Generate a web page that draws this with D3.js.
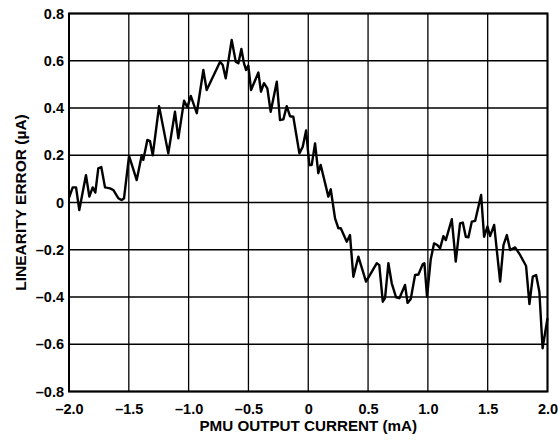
<!DOCTYPE html>
<html>
<head>
<meta charset="utf-8">
<script src="https://cdn.jsdelivr.net/npm/d3@7"></script>
<style>
  html, body { margin: 0; padding: 0; background: #fff; }
  svg { display: block; }
  text { font-family: "Liberation Sans", Arial, Helvetica, sans-serif; font-weight: bold; fill: #000; }
</style>
</head>
<body>
<svg id="chart" width="560" height="444"></svg>
<script>
// PMU output current (mA)
const currentMA = [
  -2.000, -1.969, -1.941, -1.914, -1.858, -1.830, -1.802, -1.780, -1.755, -1.730,
  -1.699, -1.657, -1.630, -1.588, -1.559, -1.540, -1.498, -1.434, -1.392, -1.379,
  -1.345, -1.323, -1.300, -1.247, -1.170, -1.114, -1.086, -1.038, -1.011, -0.982,
  -0.932, -0.877, -0.849, -0.737, -0.715, -0.690, -0.640, -0.606, -0.584, -0.559,
  -0.537, -0.520, -0.501, -0.478, -0.417, -0.395, -0.370, -0.342, -0.314, -0.263,
  -0.236, -0.208, -0.180, -0.152, -0.125, -0.074, -0.046, -0.018, 0.009, 0.029,
  0.057, 0.084, 0.104, 0.168, 0.188, 0.224, 0.252, 0.272, 0.322, 0.349,
  0.377, 0.419, 0.483, 0.573, 0.594, 0.623, 0.642, 0.670, 0.698, 0.734,
  0.762, 0.809, 0.830, 0.857, 0.893, 0.921, 0.957, 0.971, 0.993, 1.024,
  1.052, 1.079, 1.102, 1.130, 1.150, 1.200, 1.233, 1.269, 1.292, 1.317,
  1.339, 1.367, 1.395, 1.445, 1.470, 1.498, 1.520, 1.554, 1.604, 1.632,
  1.660, 1.688, 1.729, 1.771, 1.821, 1.849, 1.877, 1.905, 1.932, 1.959,
  2.000
];

// Linearity error (µA)
const linearityErrorUA = [
  0.020, 0.064, 0.064, -0.032, 0.116, 0.025, 0.064, 0.042, 0.145, 0.150,
  0.064, 0.060, 0.053, 0.018, 0.010, 0.018, 0.197, 0.095, 0.200, 0.180,
  0.265, 0.260, 0.200, 0.408, 0.208, 0.384, 0.272, 0.431, 0.403, 0.451,
  0.378, 0.561, 0.476, 0.596, 0.582, 0.526, 0.688, 0.596, 0.589, 0.650,
  0.589, 0.561, 0.580, 0.476, 0.550, 0.469, 0.505, 0.483, 0.384, 0.511,
  0.349, 0.352, 0.408, 0.365, 0.363, 0.208, 0.236, 0.305, 0.159, 0.159,
  0.250, 0.124, 0.159, 0.025, 0.056, -0.067, -0.109, -0.109, -0.166, -0.138,
  -0.314, -0.229, -0.335, -0.257, -0.265, -0.420, -0.405, -0.257, -0.342, -0.401,
  -0.405, -0.349, -0.425, -0.408, -0.307, -0.305, -0.261, -0.257, -0.399, -0.240,
  -0.173, -0.180, -0.194, -0.142, -0.159, -0.071, -0.250, -0.088, -0.085, -0.145,
  -0.147, -0.081, -0.078, 0.032, -0.145, -0.102, -0.142, -0.095, -0.335, -0.180,
  -0.138, -0.201, -0.190, -0.222, -0.269, -0.430, -0.314, -0.307, -0.378, -0.617,
  -0.490
];

const xTicks = [-2.0, -1.5, -1.0, -0.5, 0, 0.5, 1.0, 1.5, 2.0];
const yTicks = [-0.8, -0.6, -0.4, -0.2, 0, 0.2, 0.4, 0.6, 0.8];
const xTitle = "PMU OUTPUT CURRENT (mA)";
const yTitle = "LINEARITY ERROR (µA)";

const margin = { left: 69, right: 12.5, top: 13.5, bottom: 52.5 };
const width = 560, height = 444;

const svg = d3.select("#chart");

const x = d3.scaleLinear().domain([-2, 2]).range([margin.left, width - margin.right]);
const y = d3.scaleLinear().domain([-0.8, 0.8]).range([height - margin.bottom, margin.top]);

// Tick label format: one decimal, en dash for negatives, bare "0" at zero
const fmt = v => v === 0 ? "0" : (v < 0 ? "\u2013" : "") + Math.abs(v).toFixed(1);

// Grid
const grid = svg.append("g").attr("stroke", "#000").attr("stroke-width", 1.3);
grid.selectAll("line.gx").data(xTicks).join("line")
  .attr("x1", d => x(d)).attr("x2", d => x(d))
  .attr("y1", y(-0.8)).attr("y2", y(0.8));
grid.selectAll("line.gy").data(yTicks).join("line")
  .attr("y1", d => y(d)).attr("y2", d => y(d))
  .attr("x1", x(-2)).attr("x2", x(2));

// Frame
svg.append("rect")
  .attr("x", x(-2)).attr("y", y(0.8))
  .attr("width", x(2) - x(-2)).attr("height", y(-0.8) - y(0.8))
  .attr("fill", "none").attr("stroke", "#000").attr("stroke-width", 2);

// Axes (labels only; grid and frame drawn above)
const xAxis = svg.append("g")
  .attr("transform", `translate(0,${y(-0.8)})`)
  .call(d3.axisBottom(x).tickValues(xTicks).tickFormat(fmt).tickSize(0).tickPadding(12.5));
const yAxis = svg.append("g")
  .attr("transform", `translate(${x(-2)},0)`)
  .call(d3.axisLeft(y).tickValues(yTicks).tickFormat(fmt).tickSize(0).tickPadding(5));
[xAxis, yAxis].forEach(a => {
  a.select(".domain").remove();
  a.selectAll("text")
    .attr("font-size", 14.5)
    .attr("font-family", "'Liberation Sans', Arial, sans-serif")
    .attr("font-weight", "bold")
    .attr("fill", "#000");
});

// Data line
const line = d3.line()
  .x((d, i) => x(currentMA[i]))
  .y(d => y(d));
svg.append("path")
  .datum(linearityErrorUA)
  .attr("d", line)
  .attr("fill", "none")
  .attr("stroke", "#000")
  .attr("stroke-width", 2.4)
  .attr("stroke-linejoin", "round");

// Axis titles
svg.append("text")
  .attr("x", x(0)).attr("y", 431)
  .attr("text-anchor", "middle")
  .attr("font-size", 15.2)
  .text(xTitle);
svg.append("text")
  .attr("transform", `translate(26,${(y(0.8) + y(-0.8)) / 2}) rotate(-90)`)
  .attr("text-anchor", "middle")
  .attr("font-size", 15.5)
  .text(yTitle);
</script>
</body>
</html>
